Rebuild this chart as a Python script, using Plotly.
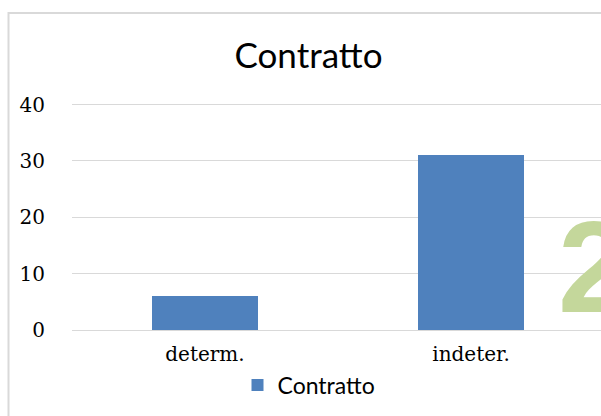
import plotly.graph_objects as go

categories = ["determ.", "indeter."]
values = [6, 31]
series_name = "Contratto"
title_text = "Contratto"
y_ticks = [0, 10, 20, 30, 40]

W, H = 601, 416
L, R_px = 72, 601
y_zero = 330.0
px_per_unit = 5.625
y_top_val = 41
T = y_zero - y_top_val * px_per_unit
B = H - y_zero

band = 266.0
xr0 = -0.5
xr1 = xr0 + (R_px - L) / band

serif = "'DejaVu Serif', Cambria, 'Liberation Serif', serif"
sans = "Lato, 'Open Sans', sans-serif"

def px_x(px):
    return (px - L) / (R_px - L)

def px_y(py):
    return (y_zero - py) / (y_zero - T)

fig = go.Figure()
fig.add_trace(go.Bar(
    x=categories, y=values, name=series_name,
    marker=dict(color="#4f81bd", line=dict(width=0)),
    width=0.40,
))

fig.update_layout(
    width=W, height=H,
    margin=dict(l=L, r=W - R_px, t=T, b=B, pad=0),
    paper_bgcolor="white", plot_bgcolor="white",
    title=dict(text=title_text, x=308.5 / W, xanchor="center", xref="container",
               y=1 - 56 / H, yanchor="middle", yref="container",
               font=dict(family=sans, size=35, color="#000000")),
    showlegend=True,
    legend=dict(orientation="h", x=px_x(309), xanchor="center",
                y=px_y(385), yanchor="middle",
                font=dict(family=sans, size=23, color="#000000"),
                itemwidth=30, bgcolor="rgba(0,0,0,0)"),
    xaxis=dict(range=[xr0, xr1], showgrid=False, zeroline=False, showline=False,
               ticks="outside", ticklen=6, tickcolor="rgba(0,0,0,0)",
               tickfont=dict(family=serif, size=20, color="#000000")),
    yaxis=dict(range=[0, y_top_val], tickvals=y_ticks, showgrid=True, gridcolor="#d9d9d9",
               gridwidth=1, zeroline=True, zerolinecolor="#d9d9d9", zerolinewidth=1,
               showline=False, ticks="outside", ticklen=22,
               tickcolor="rgba(0,0,0,0)",
               tickfont=dict(family=serif, size=20, color="#000000")),
    bargap=0,
)

# chart border (extends past the cropped edges)
fig.add_shape(type="rect", xref="paper", yref="paper",
              x0=px_x(8.5), x1=1.2,
              y0=-1.0, y1=px_y(13.5),
              line=dict(color="#d9d9d9", width=2), fillcolor="rgba(0,0,0,0)",
              layer="below")

# partial watermark glyph at right edge
fig.add_annotation(text="<b>2</b>", xref="paper", yref="paper",
                   x=px_x(556), xanchor="left",
                   y=px_y(267), yanchor="middle",
                   showarrow=False,
                   font=dict(family="'Liberation Sans', Arial, sans-serif", size=130,
                             color="#c4d79b"))

fig.write_html(
    "out.html",
    config={"displayModeBar": False},
    post_script="document.body.style.margin='0';document.body.style.overflow='hidden';",
)
